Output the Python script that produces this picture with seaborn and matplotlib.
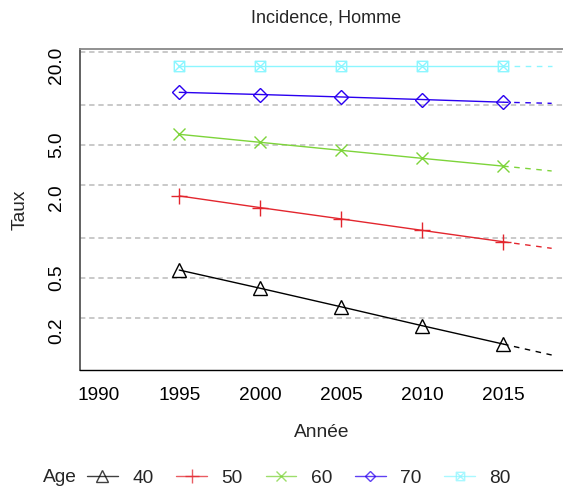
import matplotlib
matplotlib.use("Agg")
import matplotlib.pyplot as plt
import seaborn as sns
import pandas as pd
import numpy as np
from matplotlib.path import Path
from matplotlib.lines import Line2D
from matplotlib.ticker import FixedLocator, FixedFormatter, NullLocator

# ---- data ----
years = [1995, 2000, 2005, 2010, 2015]
proj_years = [2015, 2018]
ages = ["40", "50", "60", "70", "80"]
taux_40 = [0.573, 0.418, 0.303, 0.2185, 0.159]
taux_50 = [2.07, 1.69, 1.39, 1.14, 0.936]
taux_60 = [6.02, 5.24, 4.56, 3.97, 3.47]
taux_70 = [12.46, 12.0, 11.5, 11.0, 10.5]
taux_80 = [19.8, 19.8, 19.8, 19.8, 19.8]
proj_2018 = [0.1315, 0.835, 3.19, 10.3, 19.8]
y_ticks = [0.2, 0.5, 1, 2, 5, 10, 20]
y_ticklabels = ["0.2", "0.5", "", "2.0", "5.0", "", "20.0"]
y_grid = [0.25, 0.5, 1, 2.5, 5, 10, 25]
x_ticks = [1990, 1995, 2000, 2005, 2010, 2015]

series = [taux_40, taux_50, taux_60, taux_70, taux_80]
colors = ["#000000", "#E3262E", "#7DD43A", "#2A00F0", "#8CF6FF"]

sqx = Path([(-1, -1), (1, -1), (1, 1), (-1, 1), (-1, -1),
            (-1, -1), (1, 1), (-1, 1), (1, -1)],
           [Path.MOVETO, Path.LINETO, Path.LINETO, Path.LINETO, Path.CLOSEPOLY,
            Path.MOVETO, Path.LINETO, Path.MOVETO, Path.LINETO])
markers = ["^", "+", "x", "D", sqx]
msizes = [10, 12, 8.5, 7, 7.5]

sns.set_style("white")
plt.rcParams["font.family"] = ["Liberation Sans", "DejaVu Sans"]

W, H = 563, 487
fig = plt.figure(figsize=(W / 100, H / 100), dpi=100)
ax = fig.add_axes([80 / W, 1 - 370 / H, 1 - 80 / W, (370 - 49) / H])
ax.set_yscale("log")
ax.set_ylim(0.1014, 26.4)
ax.set_xlim(1988.87, 2018.7)

for yg in y_grid:
    ax.axhline(yg, color="#BBBBBB", lw=1.1, ls=(0, (3.5, 2.5)), zorder=0)

for vals, pv, c, m, ms in zip(series, proj_2018, colors, markers, msizes):
    df = pd.DataFrame({"Année": years, "Taux": vals})
    sns.lineplot(data=df, x="Année", y="Taux", color=c, lw=1.0, ax=ax,
                 marker=m, markersize=ms, markerfacecolor="none",
                 markeredgecolor=c, markeredgewidth=1.0, zorder=3)
    dfp = pd.DataFrame({"Année": proj_years, "Taux": [vals[-1], pv]})
    sns.lineplot(data=dfp, x="Année", y="Taux", color=c, lw=1.0, ax=ax,
                 linestyle=(0, (4, 4)), zorder=2)

ax.yaxis.set_major_locator(FixedLocator(y_ticks))
ax.yaxis.set_major_formatter(FixedFormatter(y_ticklabels))
ax.yaxis.set_minor_locator(NullLocator())
ax.set_xticks(x_ticks)
ax.set_xticklabels([str(x) for x in x_ticks])
ax.tick_params(axis="both", which="major", direction="out", length=5.5,
               width=1.0, labelsize=13.8, colors="black", pad=5)
ax.tick_params(axis="y", labelrotation=90, color="#333333")
for lab in ax.get_yticklabels():
    lab.set_va("center")
ax.tick_params(axis="x", pad=7)

for s in ["left", "bottom", "top", "right"]:
    ax.spines[s].set_visible(True)
ax.spines["left"].set_color("#555555")
ax.spines["left"].set_linewidth(1.3)
ax.spines["bottom"].set_color("#000000")
ax.spines["bottom"].set_linewidth(1.0)
ax.spines["top"].set_color("#888888")
ax.spines["top"].set_linewidth(1.3)
ax.spines["right"].set_visible(False)

ax.set_xlabel("Année", fontsize=13.8, labelpad=14)
ax.set_ylabel("Taux", fontsize=13.8, labelpad=14)
fig.text(326 / W, 1 - 18 / H, "Incidence, Homme", ha="center", va="center",
         fontsize=13)

handles = []
for c, m, ms in zip(colors, markers, msizes):
    handles.append(Line2D([], [], color=c, lw=1.0, marker=m, markersize=ms * 0.8,
                          markerfacecolor="none", markeredgecolor=c, alpha=0.75))
fig.text(43 / W, 1 - 478 / H, "Age", ha="left", va="center", fontsize=13.8)
fig.legend(handles, ages, ncol=5, frameon=False, loc="center left",
           bbox_to_anchor=(87 / W, 1 - 478 / H), borderpad=0, borderaxespad=0,
           handlelength=1.6, handletextpad=0.75, columnspacing=1.2,
           fontsize=13.8)

fig.savefig("out.png", dpi=100)
